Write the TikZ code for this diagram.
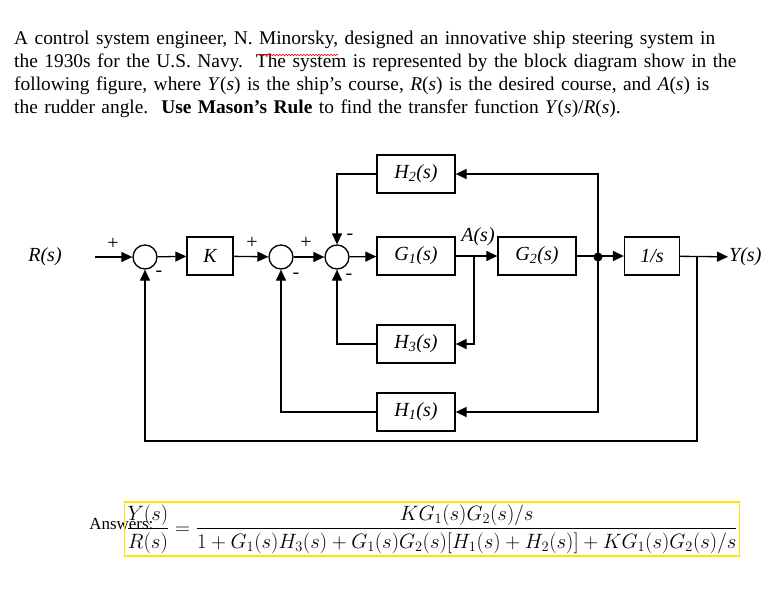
\documentclass[tikz,border=0pt]{standalone}
\usepackage{amsmath}
\usepackage{fontspec}
\setmainfont{Liberation Serif}
\usetikzlibrary{arrows.meta,decorations.pathmorphing}
\begin{document}
\begin{tikzpicture}[x=1pt,y=-1pt,
  blk/.style={draw,line width=1.3pt,minimum width=78pt,minimum height=38pt,inner sep=0pt,font=\fontsize{20}{22}\selectfont\itshape},
  sm/.style={draw,circle,line width=1.3pt,minimum size=24pt,inner sep=0pt},
  a/.style={line width=1.3pt,-{Triangle[length=11pt,width=10pt]}},
  lab/.style={font=\fontsize{20}{22}\selectfont\itshape,inner sep=1pt},
  sg/.style={font=\fontsize{20}{22}\selectfont,inner sep=0pt}]
\useasboundingbox (0,0) rectangle (778,602);
\node[anchor=north west,inner sep=0pt,text width=760pt,align=left,font=\fontsize{19.4}{22.8}\selectfont] (txt) at (14,31)
{A control system engineer, N. Minorsky, designed an innovative ship steering system in\\
the 1930s for the U.S. Navy.\ \ The system is represented by the block diagram show in the\\
following figure, where \textit{Y}(\textit{s}) is the ship's course, \textit{R}(\textit{s}) is the desired course, and \textit{A}(\textit{s}) is\\
the rudder angle.\ \ \textbf{Use Mason's Rule} to find the transfer function \textit{Y}(\textit{s})/\textit{R}(\textit{s}).};
\draw[red,line width=0.6pt,decorate,decoration={snake,amplitude=0.8pt,segment length=3pt}] (258,55) -- (338,55);
% nodes
\node[lab] (R) at (45,257) {R(s)};
\coordinate (Rin) at (95,257);
\node[sm] (s1) at (145,257) {};
\node[blk,minimum width=46pt] (K) at (210,256) {K};
\node[sm] (s2) at (281,257) {};
\node[sm] (s3) at (337,257) {};
\node[blk] (G1) at (416,256) {G\textsubscript{\itshape 1}(s)};
\node[blk] (G2) at (537,256) {G\textsubscript{2}(s)};
\node[blk,minimum width=55pt] (I) at (652,256) {1/s};
\node[lab,anchor=west] (Y) at (728,257) {Y(s)};
\node[blk] (H2) at (416,174) {H\textsubscript{2}(s)};
\node[blk] (H3) at (416,344) {H\textsubscript{3}(s)};
\node[blk] (H1) at (416,412) {H\textsubscript{1}(s)};
\node[lab] (As) at (478,237) {A(s)};
\coordinate (j1) at (474,257);
\coordinate (j2) at (598,257);
\coordinate (j3) at (697,257);
\fill (j2) circle (4.5pt);
% forward
\draw[a] (Rin) -- (s1);
\draw[a] (s1) -- (K);
\draw[a] (K) -- (s2);
\draw[a] (s2) -- (s3);
\draw[a] (s3) -- (G1);
\draw[a] (G1) -- (G2);
\draw[a] (G2.east) -- (I);
\draw[a] (I) -- (Y);
% feedback
\draw[a] (j2) |- (H2);
\draw[a] (H2) -| (s3);
\draw[a] (j1) |- (H3);
\draw[a] (H3) -| (s3);
\draw[a] (j2) |- (H1);
\draw[a] (H1) -| (s2);
\draw[a] (j3) -- (697,441) -| (s1);
% signs
\node[sg] at (113,244) {+};
\node[sg] at (159,274) {-};
\node[sg] at (252,243) {+};
\node[sg] at (296,276) {-};
\node[sg] at (306,243) {+};
\node[sg] at (350,237) {-};
\node[sg] at (349,277) {-};
% answer
\node[font=\fontsize{17}{20}\selectfont,anchor=east] (ans) at (157,524) {Answers:};
\node[draw=yellow!90!orange,line width=1.5pt,inner sep=2pt,minimum width=530pt,minimum height=54pt,font=\fontsize{19.5}{22}\selectfont] (eq) at (432,529)
{$\dfrac{Y(s)}{R(s)}=\dfrac{KG_1(s)G_2(s)/s}{1+G_1(s)H_3(s)+G_1(s)G_2(s)[H_1(s)+H_2(s)]+KG_1(s)G_2(s)/s}$};
\end{tikzpicture}
\end{document}
